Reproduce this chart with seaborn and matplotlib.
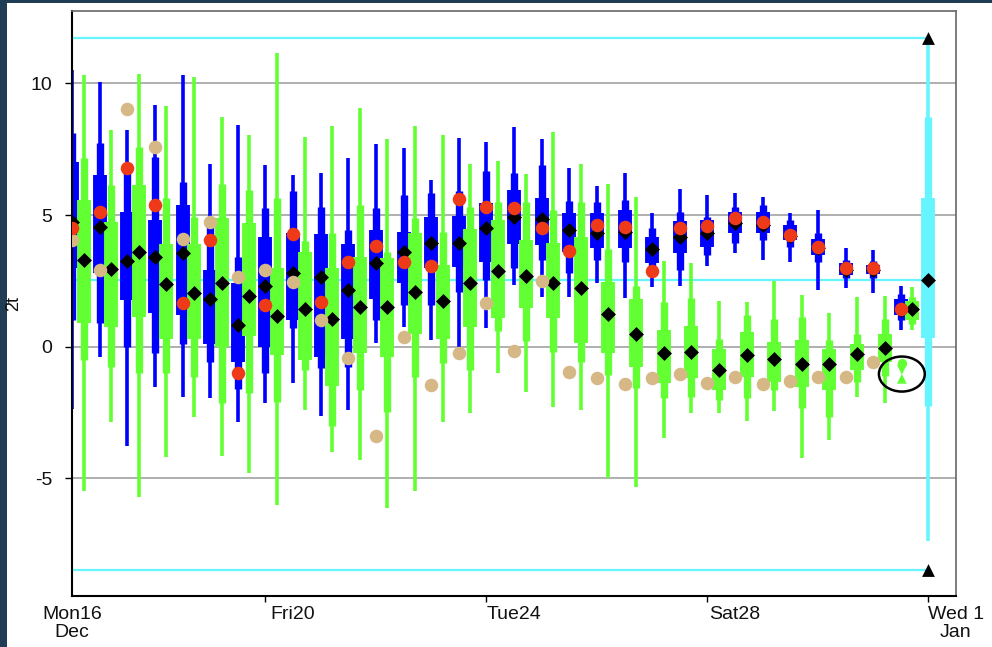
import numpy as np
import pandas as pd
import matplotlib
matplotlib.use("Agg")
import matplotlib.pyplot as plt
from matplotlib.patches import Ellipse, Rectangle
import seaborn as sns

# ---------------- data ----------------
# time axis: days after Mon 16 Dec 00 UTC, one step every 12 h
steps = np.arange(0.5, 16.0, 0.5)          # 31 forecast steps
green_shift = 0.21                          # green boxes plotted just right of blue

blue_max = [10.5, 10.06, 8.23, 9.18, 10.32, 6.92, 8.42, 6.9, 6.52, 6.61, 7.18, 7.7, 7.56, 6.33, 7.91, 7.78,
            8.33, 7.87, 6.8, 6.11, 6.58, 5.06, 5.99, 5.75, 5.85, 5.7, 5.09, 5.21, 3.73, 3.67, 2.3]
blue_p90 = [8.1, 7.75, 6.7, 7.2, 6.27, 4.9, 3.42, 5.25, 5.9, 5.32, 4.43, 5.25, 5.76, 5.85, 5.9, 6.67,
            6.61, 6.9, 5.53, 5.5, 5.57, 4.49, 5.13, 4.94, 5.3, 5.4, 4.81, 4.3, 3.3, 3.25, 2.0]
blue_p75 = [7.03, 6.52, 5.13, 4.8, 5.38, 2.91, 2.41, 4.18, 4.3, 4.28, 3.9, 4.43, 4.37, 4.94, 4.96, 5.44,
            5.95, 5.63, 5.06, 5.06, 5.19, 4.18, 4.78, 4.81, 5.1, 5.1, 4.62, 4.1, 3.16, 3.1, 1.8]
blue_median = [4.75, 4.53, 3.27, 3.42, 3.54, 1.80, 0.82, 2.30, 2.78, 2.63, 2.15, 3.16, 3.58, 3.92, 3.92, 4.49,
               4.91, 4.84, 4.43, 4.33, 4.37, 3.7, 4.15, 4.33, 4.68, 4.62, 4.2, 3.75, 2.9, 2.9, 1.4]
blue_p25 = [3.0, 2.8, 1.77, 1.27, 1.2, 0.1, -0.6, 0.0, 1.0, -0.4, 0.3, 1.82, 2.41, 3.0, 3.04, 3.23,
            3.9, 3.86, 3.6, 3.73, 3.73, 3.16, 3.55, 3.8, 4.3, 4.3, 4.05, 3.5, 2.72, 2.75, 1.2]
blue_p10 = [1.0, 0.89, 0.0, -0.25, 0.1, -0.6, -1.6, -1.0, 0.7, -0.8, -0.76, 1.0, 1.6, 1.6, 2.09, 2.53,
            2.97, 3.3, 2.78, 3.29, 3.2, 2.78, 2.91, 3.5, 3.92, 4.05, 3.8, 3.2, 2.6, 2.6, 1.0]
blue_min = [-2.37, -0.38, -3.77, -1.52, -1.9, -1.96, -2.85, -2.15, -1.39, -2.63, -2.4, 0.13, 0.75, 0.25, 0.0, 0.7,
            2.34, 1.9, 1.87, 2.41, 1.84, 2.28, 2.3, 3.07, 3.54, 3.31, 3.22, 2.15, 2.21, 2.03, 0.65]
hres = [4.49, 5.13, 6.77, 5.38, 1.67, 4.05, -1.01, 1.6, 4.28, 1.68, 3.2, 3.82, 3.23, 3.06, 5.6, 5.32,
        5.25, 4.49, 3.65, 4.61, 4.53, 2.87, 4.49, 4.6, 4.87, 4.74, 4.24, 3.78, 2.97, 2.97, 1.45]

green_max = [10.32, 8.23, 10.34, 9.14, 10.25, 8.73, 8.04, 11.14, 7.97, 8.38, 9.08, 7.87, 8.38, 8.04, 6.94, 7.06,
             6.54, 8.16, 6.92, 6.16, 5.67, 3.27, 3.19, 1.74, 1.7, 2.5, 1.96, 1.29, 1.89, 1.91, 2.27]
green_p90 = [7.15, 6.14, 7.6, 5.63, 4.94, 6.18, 5.97, 5.63, 4.0, 4.3, 5.38, 3.6, 4.87, 4.37, 5.32, 5.5,
             5.5, 5.19, 5.5, 3.7, 2.3, 1.71, 1.83, 0.3, 1.2, 1.07, 1.13, 0.25, 0.5, 1.07, 1.9]
green_p75 = [5.57, 4.75, 6.14, 3.9, 3.9, 4.87, 4.68, 2.97, 3.6, 3.0, 3.42, 3.35, 4.3, 3.1, 4.46, 4.81,
             4.05, 3.92, 4.18, 2.47, 1.8, 0.63, 0.78, -0.07, 0.57, 0.19, 0.25, -0.07, 0.12, 0.5, 1.75]
green_median = [3.29, 2.94, 3.61, 2.38, 2.03, 2.41, 1.92, 1.16, 1.42, 1.04, 1.52, 1.52, 2.06, 1.75, 2.41, 2.89,
                2.68, 2.43, 2.22, 1.23, 0.5, -0.23, -0.22, -0.89, -0.32, -0.48, -0.66, -0.66, -0.29, -0.06, 1.42]
green_p25 = [0.9, 0.76, 1.14, 0.3, 0.3, 0.0, 0.4, -0.3, -0.5, -1.5, -0.25, -0.38, 0.5, 0.3, 0.76, 1.08,
             1.46, 1.08, 0.13, -0.25, -0.76, -1.39, -1.2, -1.65, -1.17, -1.33, -1.52, -1.65, -0.89, -0.6, 1.0]
green_p10 = [-0.5, -0.76, -1.0, -1.0, -1.14, -2.15, -1.77, -2.1, -0.9, -3.0, -1.65, -2.47, -1.14, -0.63, -0.9, 0.6,
             0.2, -0.19, -0.57, -1.08, -1.58, -1.96, -1.9, -2.03, -1.96, -1.65, -2.34, -2.66, -1.33, -1.1, 0.85]
green_min = [-5.48, -2.87, -5.72, -4.2, -2.66, -4.15, -4.81, -6.01, -2.4, -4.0, -4.3, -6.14, -5.5, -2.85, -2.53, -1.01,
             -1.71, -2.28, -2.41, -5.0, -5.32, -3.48, -2.53, -2.53, -2.81, -2.43, -4.24, -3.54, -1.9, -2.15, 0.62]
control = [4.05, 2.91, 9.01, 7.59, 4.08, 4.75, 2.66, 2.91, 2.44, 1.01, -0.44, -3.39, 0.36, -1.46, -0.23, 1.67,
           -0.17, 2.51, -0.95, -1.2, -1.43, -1.2, -1.05, -1.37, -1.16, -1.43, -1.29, -1.16, -1.14, -0.57, np.nan]

# flagged (circled) value at the last step
flag_step = 15.52
flag_dot = -0.63
flag_glyph = [-0.88, -1.22]

# climate box at Wed 1 Jan
clim_step = 16.0
clim_extreme = [-8.48, 11.73]
clim_min, clim_p10, clim_p25, clim_median, clim_p75, clim_p90, clim_max = -7.38, -2.26, 0.33, 2.53, 5.64, 8.73, 11.73

day_ticks = [4, 8, 12, 16]
day_label_pos = [0.5, 4.5, 8.5, 12.5, 16.5]
day_labels = ["Mon16\nDec", "Fri20", "Tue24", "Sat28", "Wed 1\nJan"]
y_ticks = [-5, 0, 5, 10]
y_ticklabels = ["-5", "0", "5", "10"]

# ---------------- style ----------------
sns.set_style("white")
plt.rcParams['font.family'] = ['Liberation Sans', 'DejaVu Sans']
plt.rcParams['axes.unicode_minus'] = False

BLUE = "#0000ff"
GREEN = "#62ff33"
RED = "#ef3a19"
TAN = "#d6b886"
CYAN = "#66f5ff"
W_THIN, W_MED, W_WIDE = 2.6, 5.3, 10.0
DIAMOND_S = 58

fig = plt.figure(figsize=(9.92, 6.47), dpi=100)
fig.patches.append(Rectangle((0, 0), 7 / 992, 1, transform=fig.transFigure,
                             facecolor="#1f3d55", edgecolor="none", zorder=-10))
fig.patches.append(Rectangle((0, 1 - 3 / 647), 1, 3 / 647, transform=fig.transFigure,
                             facecolor="#1f3d55", edgecolor="none", zorder=-10))
ax = fig.add_axes([72 / 992, 1 - 596 / 647, 884 / 992, 585 / 647])

df = pd.DataFrame({
    "step": steps, "gstep": steps + green_shift,
    "bmin": blue_min, "b10": blue_p10, "b25": blue_p25, "b50": blue_median,
    "b75": blue_p75, "b90": blue_p90, "bmax": blue_max, "hres": hres,
    "gmin": green_min, "g10": green_p10, "g25": green_p25, "g50": green_median,
    "g75": green_p75, "g90": green_p90, "gmax": green_max, "ctrl": control,
})

# climate reference lines
ax.hlines([clim_extreme[1], clim_median, clim_extreme[0]], 0.5, clim_step,
          colors=CYAN, lw=1.6, zorder=1)


def boxes(x, lo, p10, p25, p75, p90, hi, color, z):
    ax.vlines(x, lo, hi, colors=color, lw=W_THIN, zorder=z, capstyle="butt")
    ax.vlines(x, p10, p90, colors=color, lw=W_MED, zorder=z, capstyle="butt")
    ax.vlines(x, p25, p75, colors=color, lw=W_WIDE, zorder=z, capstyle="butt")


boxes(df["step"], df["bmin"], df["b10"], df["b25"], df["b75"], df["b90"], df["bmax"], BLUE, 2)
boxes(df["gstep"], df["gmin"], df["g10"], df["g25"], df["g75"], df["g90"], df["gmax"], GREEN, 3)
boxes([clim_step], [clim_min], [clim_p10], [clim_p25], [clim_p75], [clim_p90], [clim_max], CYAN, 3)

# medians
sns.scatterplot(data=df, x="step", y="b50", marker="D", color="black", s=DIAMOND_S,
                linewidth=0, ax=ax, zorder=4, legend=False)
sns.scatterplot(data=df, x="gstep", y="g50", marker="D", color="black", s=DIAMOND_S,
                linewidth=0, ax=ax, zorder=4, legend=False)
sns.scatterplot(x=[clim_step], y=[clim_median], marker="D", color="black", s=DIAMOND_S,
                linewidth=0, ax=ax, zorder=4, legend=False)
# control & hres
sns.scatterplot(data=df, x="step", y="ctrl", color=TAN, s=95, linewidth=0,
                ax=ax, zorder=5, legend=False)
sns.scatterplot(data=df, x="step", y="hres", color=RED, s=95, linewidth=0,
                ax=ax, zorder=6, legend=False)
# climate extremes
sns.scatterplot(x=[clim_step, clim_step], y=clim_extreme, marker="^", color="black",
                s=85, linewidth=0, ax=ax, zorder=6, legend=False)

# flagged value
sns.scatterplot(x=[flag_step], y=[flag_dot], marker="o", color=GREEN, s=45,
                linewidth=0, ax=ax, zorder=6, legend=False)
sns.scatterplot(x=[flag_step, flag_step], y=flag_glyph, color=GREEN, s=50,
                linewidth=0, ax=ax, zorder=6, legend=False, style=[0, 1],
                markers={0: "v", 1: "^"})
ax.add_patch(Ellipse((flag_step, -1.04), 0.83, 1.33, fill=False, ec="black", lw=1.8, zorder=7))

# ---------------- axes ----------------
ax.set_xlim(0.5, 16.5)
ax.set_ylim(-9.47, 12.75)
ax.set_xticks(day_ticks)
ax.set_xticklabels([])
ax.set_xticks(day_label_pos, minor=True)
ax.set_xticklabels(day_labels, minor=True)
for lab in ax.get_xticklabels(minor=True):
    lab.set_linespacing(1.1)
ax.tick_params(axis="x", which="major", bottom=True, length=4, width=1, direction="out", color="black")
ax.tick_params(axis="x", which="minor", bottom=True, length=0, pad=7, labelsize=14, labelcolor="#111111")
ax.set_yticks(y_ticks)
ax.set_yticklabels(y_ticklabels)
ax.tick_params(axis="y", left=True, length=5, width=1, pad=9, labelsize=14,
               labelcolor="#111111", color="black")
ax.yaxis.grid(True, color="#9a9a9a", lw=1.1)
ax.xaxis.grid(False)
ax.set_axisbelow(True)
ax.set_xlabel("")
ax.set_ylabel("2t", fontsize=13, color="#111111")
ax.yaxis.set_label_coords(-0.056, 0.5)

for s in ["left", "bottom"]:
    ax.spines[s].set_color("black")
    ax.spines[s].set_linewidth(1.5)
for s in ["top", "right"]:
    ax.spines[s].set_color("#666666")
    ax.spines[s].set_linewidth(1.2)

fig.savefig("out.png", dpi=100)
